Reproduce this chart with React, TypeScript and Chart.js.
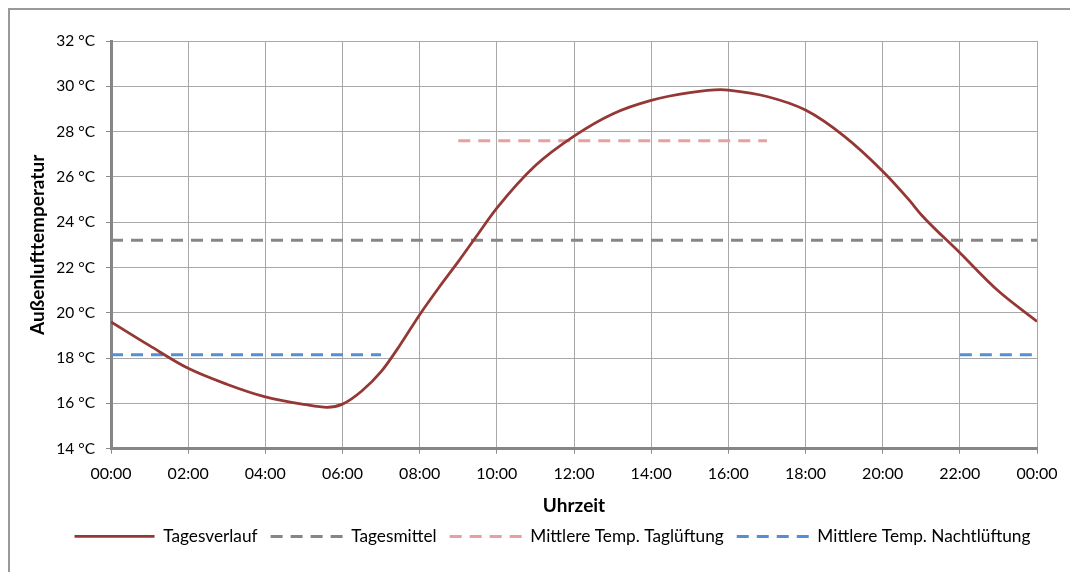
import React, { useEffect, useRef } from "react";
import { Chart, registerables } from "chart.js";

Chart.register(...registerables);

// Tagesverlauf der Außenlufttemperatur (Stunden / °C)
const stunden = [0, 1, 2, 3, 4, 5, 5.6, 6, 6.5, 7, 7.5, 8, 8.5, 9, 9.5, 10, 11, 12, 13, 14, 15, 15.8, 16, 17, 18, 19, 20, 20.7, 21, 22, 23, 24];
const tagesverlauf = [19.6, 18.55, 17.55, 16.85, 16.29, 15.96, 15.83, 15.97, 16.55, 17.4, 18.6, 19.92, 21.12, 22.26, 23.45, 24.62, 26.5, 27.8, 28.78, 29.38, 29.72, 29.85, 29.83, 29.55, 28.95, 27.8, 26.25, 24.95, 24.33, 22.65, 20.96, 19.62];

// Mittelwerte
const tagesmittelZeit = [0, 24];
const tagesmittel = 23.2;
const taglueftungZeit = [9, 17];
const taglueftungTemp = 27.6;
const nachtlueftungZeit = [0, 7, 22, 24];
const nachtlueftungTemp = 18.15;

// Achsen
const zeitLabels = ["00:00", "02:00", "04:00", "06:00", "08:00", "10:00", "12:00", "14:00", "16:00", "18:00", "20:00", "22:00", "00:00"];
const yMin = 14;
const yMax = 32;
const yStep = 2;

const FONT = "Lato, 'Noto Sans', sans-serif";

export default function App() {
  const ref = useRef<HTMLCanvasElement | null>(null);

  useEffect(() => {
    if (!ref.current) return;
    const nacht = [
      { x: nachtlueftungZeit[0], y: nachtlueftungTemp },
      { x: nachtlueftungZeit[1], y: nachtlueftungTemp },
      { x: (nachtlueftungZeit[1] + nachtlueftungZeit[2]) / 2, y: null },
      { x: nachtlueftungZeit[2], y: nachtlueftungTemp },
      { x: nachtlueftungZeit[3], y: nachtlueftungTemp },
    ];
    const chart = new Chart(ref.current, {
      type: "line",
      data: {
        datasets: [
          {
            label: "Tagesverlauf",
            data: stunden.map((h, i) => ({ x: h, y: tagesverlauf[i] })),
            borderColor: "#953735",
            borderWidth: 2.75,
            pointRadius: 0,
            cubicInterpolationMode: "monotone",
            fill: false,
          },
          {
            label: "Tagesmittel",
            data: tagesmittelZeit.map((h) => ({ x: h, y: tagesmittel })),
            borderColor: "#868686",
            borderWidth: 3,
            borderDash: [12, 8],
            pointRadius: 0,
            fill: false,
          },
          {
            label: "Mittlere Temp. Taglüftung",
            data: taglueftungZeit.map((h) => ({ x: h, y: taglueftungTemp })),
            borderColor: "#e6a09f",
            borderWidth: 3,
            borderDash: [12, 8],
            pointRadius: 0,
            fill: false,
          },
          {
            label: "Mittlere Temp. Nachtlüftung",
            data: nacht as any,
            borderColor: "#558ed5",
            borderWidth: 3,
            borderDash: [12, 8],
            pointRadius: 0,
            spanGaps: false,
            fill: false,
          },
        ],
      },
      options: {
        animation: false,
        responsive: false,
        maintainAspectRatio: false,
        layout: { padding: { top: 31, left: 0, right: 0, bottom: 17 } },
        plugins: {
          tooltip: { enabled: false },
          legend: {
            position: "bottom",
            labels: {
              usePointStyle: true,
              pointStyle: "line",
              pointStyleWidth: 80,
              padding: 5,
              color: "#000",
              font: { family: FONT, size: 17.25 },
              generateLabels: (c: any) => {
                const items = (Chart.defaults.plugins.legend.labels as any).generateLabels(c);
                return items.map((it: any) => {
                  const ds = c.data.datasets[it.datasetIndex];
                  return {
                    ...it,
                    pointStyle: "line",
                    strokeStyle: ds.borderColor,
                    fillStyle: ds.borderColor,
                    lineWidth: ds.borderWidth,
                    lineDash: ds.borderDash || [],
                    lineDashOffset: ds.borderDash ? 12 : 0,
                    lineCap: "butt",
                  };
                });
              },
            },
          },
        },
        scales: {
          x: {
            type: "linear",
            min: 0,
            max: 24,
            afterFit: (s: any) => {
              s.height = 74;
            },
            ticks: {
              stepSize: 2,
              autoSkip: false,
              maxRotation: 0,
              padding: 10,
              color: "#000",
              font: { family: FONT, size: 16 },
              callback: (v: any) => zeitLabels[Math.round(Number(v) / 2)],
            },
            grid: { color: "#a8a8a8", lineWidth: 1, tickLength: 5, tickColor: "#8a8a8a" },
            border: { color: "#868686", width: 3 },
            title: {
              display: true,
              text: "Uhrzeit",
              color: "#000",
              font: { family: FONT, size: 19, weight: "bold" },
              padding: { top: 0, bottom: 5 },
            },
          },
          y: {
            min: yMin,
            max: yMax,
            afterFit: (s: any) => {
              s.width = 101;
            },
            ticks: {
              stepSize: yStep,
              padding: 11,
              color: "#000",
              font: { family: FONT, size: 15.5 },
              callback: (v: any) => `${v} °C`,
            },
            grid: { color: "#a8a8a8", lineWidth: 1, tickLength: 5, tickColor: "#8a8a8a" },
            border: { color: "#868686", width: 3 },
            title: {
              display: true,
              text: "Außenlufttemperatur",
              color: "#000",
              font: { family: FONT, size: 19, weight: "bold" },
              padding: { top: 16, bottom: 0 },
            },
          },
          y2: {
            position: "right",
            display: true,
            afterFit: (s: any) => {
              s.width = 58;
            },
            ticks: { display: false },
            grid: { display: false },
            border: { display: false },
          },
        },
      },
    } as any);
    return () => chart.destroy();
  }, []);

  return (
    <div
      style={{
        width: 1070,
        height: 564,
        boxSizing: "border-box",
        borderLeft: "2px solid #999",
        borderTop: "2px solid #999",
        overflow: "hidden",
        background: "#fff",
      }}
    >
      <canvas ref={ref} width={1085} height={562} style={{ display: "block", width: 1085, height: 562 }} />
    </div>
  );
}
